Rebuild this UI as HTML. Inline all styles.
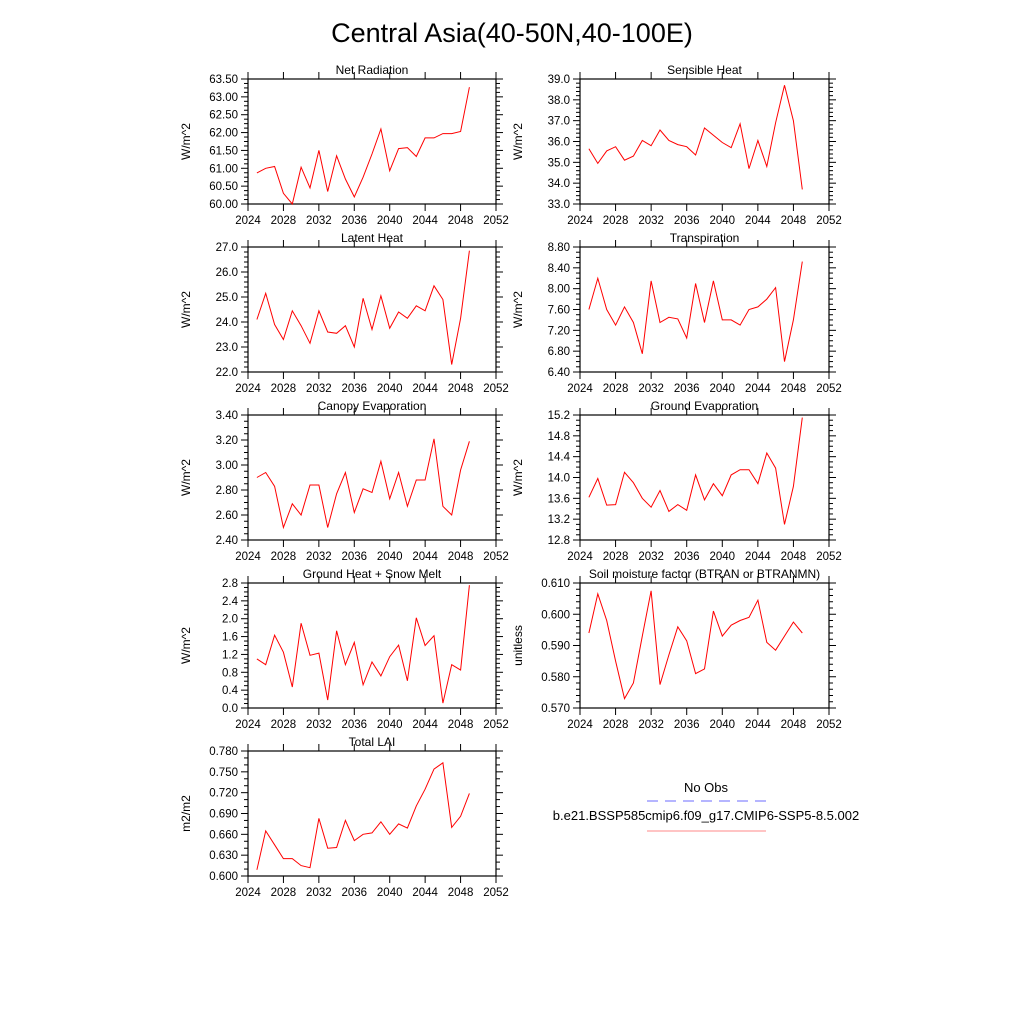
<!DOCTYPE html>
<html><head><meta charset="utf-8"><style>
body{margin:0;background:#fff;}
svg{display:block;font-family:"Liberation Sans",sans-serif;}
</style></head><body>
<svg id="fig" width="1024" height="1024" viewBox="0 0 1024 1024">
<text x="512" y="42" font-size="27" text-anchor="middle">Central Asia(40-50N,40-100E)</text>
<g>
<text x="706" y="792" font-size="13" text-anchor="middle">No Obs</text>
<line x1="647" y1="801" x2="766" y2="801" stroke="#6b6bff" stroke-width="1" stroke-dasharray="11,7"/>
<text x="706" y="820" font-size="13" text-anchor="middle">b.e21.BSSP585cmip6.f09_g17.CMIP6-SSP5-8.5.002</text>
<line x1="647" y1="831" x2="766" y2="831" stroke="#f88" stroke-width="1"/>
</g>
</svg>
<script>
const years = [2025,2026,2027,2028,2029,2030,2031,2032,2033,2034,2035,2036,2037,2038,2039,2040,2041,2042,2043,2044,2045,2046,2047,2048,2049];
const xTicks = [2024,2028,2032,2036,2040,2044,2048,2052];
const netRad = [60.87,61.0,61.05,60.3,60.0,61.03,60.45,61.5,60.35,61.35,60.7,60.2,60.75,61.4,62.1,60.93,61.55,61.58,61.33,61.85,61.85,61.97,61.97,62.03,63.27];
const sensible = [35.65,34.95,35.55,35.75,35.1,35.3,36.05,35.8,36.55,36.05,35.85,35.75,35.35,36.65,36.3,35.95,35.7,36.85,34.7,36.05,34.8,36.9,38.7,37.0,33.7];
const latent = [24.1,25.15,23.9,23.3,24.45,23.85,23.15,24.45,23.6,23.55,23.85,23.0,24.95,23.7,25.05,23.75,24.4,24.15,24.65,24.45,25.45,24.9,22.3,24.15,26.85];
const transp = [7.6,8.2,7.6,7.3,7.65,7.35,6.75,8.15,7.35,7.45,7.42,7.05,8.1,7.35,8.15,7.4,7.4,7.3,7.6,7.65,7.8,8.02,6.6,7.4,8.52];
const canopy = [2.9,2.94,2.83,2.5,2.69,2.6,2.84,2.84,2.5,2.77,2.94,2.62,2.81,2.78,3.03,2.73,2.94,2.67,2.88,2.88,3.21,2.67,2.6,2.96,3.19];
const groundEvap = [13.62,13.98,13.47,13.48,14.1,13.9,13.6,13.43,13.75,13.35,13.48,13.37,14.05,13.57,13.88,13.65,14.05,14.15,14.15,13.88,14.47,14.18,13.1,13.83,15.15];
const groundHeat = [1.1,0.97,1.63,1.25,0.47,1.9,1.18,1.23,0.18,1.73,0.97,1.47,0.52,1.03,0.72,1.15,1.41,0.61,2.02,1.4,1.62,0.11,0.97,0.85,2.75];
const soil = [0.594,0.6065,0.598,0.585,0.573,0.578,0.593,0.6075,0.5775,0.587,0.596,0.5915,0.581,0.5825,0.601,0.593,0.5965,0.598,0.599,0.6045,0.591,0.5885,0.593,0.5975,0.594];
const lai = [0.609,0.665,0.645,0.625,0.625,0.615,0.612,0.683,0.64,0.641,0.68,0.651,0.66,0.662,0.678,0.66,0.675,0.669,0.701,0.725,0.754,0.763,0.67,0.686,0.719];
const ticksNet = ["60.00","60.50","61.00","61.50","62.00","62.50","63.00","63.50"];
const ticksSens = ["33.0","34.0","35.0","36.0","37.0","38.0","39.0"];
const ticksLat = ["22.0","23.0","24.0","25.0","26.0","27.0"];
const ticksTr = ["6.40","6.80","7.20","7.60","8.00","8.40","8.80"];
const ticksCan = ["2.40","2.60","2.80","3.00","3.20","3.40"];
const ticksGE = ["12.8","13.2","13.6","14.0","14.4","14.8","15.2"];
const ticksGH = ["0.0","0.4","0.8","1.2","1.6","2.0","2.4","2.8"];
const ticksSoil = ["0.570","0.580","0.590","0.600","0.610"];
const ticksLai = ["0.600","0.630","0.660","0.690","0.720","0.750","0.780"];

const panels = [
 {name:"net-radiation",title:"Net Radiation",ylab:"W/m^2",x:248,y:79,w:248,d:netRad,t:ticksNet,minor:3},
 {name:"sensible-heat",title:"Sensible Heat",ylab:"W/m^2",x:580,y:79,w:249,d:sensible,t:ticksSens,minor:4},
 {name:"latent-heat",title:"Latent Heat",ylab:"W/m^2",x:248,y:247,w:248,d:latent,t:ticksLat,minor:4},
 {name:"transpiration",title:"Transpiration",ylab:"W/m^2",x:580,y:247,w:249,d:transp,t:ticksTr,minor:3},
 {name:"canopy-evaporation",title:"Canopy Evaporation",ylab:"W/m^2",x:248,y:415,w:248,d:canopy,t:ticksCan,minor:3},
 {name:"ground-evaporation",title:"Ground Evaporation",ylab:"W/m^2",x:580,y:415,w:249,d:groundEvap,t:ticksGE,minor:3},
 {name:"ground-heat-snow-melt",title:"Ground Heat + Snow Melt",ylab:"W/m^2",x:248,y:583,w:248,d:groundHeat,t:ticksGH,minor:3},
 {name:"soil-moisture-factor",title:"Soil moisture factor (BTRAN or BTRANMN)",ylab:"unitless",x:580,y:583,w:249,d:soil,t:ticksSoil,minor:4},
 {name:"total-lai",title:"Total LAI",ylab:"m2/m2",x:248,y:751,w:248,d:lai,t:ticksLai,minor:2}
];
const H = 125;
const NS = "http://www.w3.org/2000/svg";
const svg = document.getElementById('fig');
function mk(tag, attrs, parent){const e=document.createElementNS(NS,tag);for(const k in attrs)e.setAttribute(k,attrs[k]);parent.appendChild(e);return e;}
panels.forEach(p=>{
 const g = mk('g',{},svg);
 
 
 const ymin = parseFloat(p.t[0]), ymax = parseFloat(p.t[p.t.length-1]);
 const xs = v => p.x + (v-xTicks[0])/(xTicks[xTicks.length-1]-xTicks[0])*p.w;
 const ys = v => p.y + H - (v-ymin)/(ymax-ymin)*H;
 const box = mk('rect',{x:p.x,y:p.y,width:p.w,height:H,fill:'none',stroke:'#000','stroke-width':1.2},g);
 
 
 const tt = mk('text',{x:p.x+p.w/2,y:p.y-5,'font-size':12,'text-anchor':'middle'},g);
 tt.textContent = p.title;
 
 
 const yl = mk('text',{x:0,y:0,'font-size':12,'text-anchor':'middle',transform:`translate(${p.x-58},${p.y+H/2}) rotate(-90)`},g);
 yl.textContent = p.ylab;
 
 
 xTicks.forEach(v=>{
  const X = xs(v);
  mk('line',{x1:X,y1:p.y+H,x2:X,y2:p.y+H+7,stroke:'#000'},g);
  mk('line',{x1:X,y1:p.y,x2:X,y2:p.y-7,stroke:'#000'},g);
  const lb = mk('text',{x:X,y:p.y+H+20,'font-size':11.5,'text-anchor':'middle'},g);
  lb.textContent = v;
  
  
 });
 p.t.forEach((s,i)=>{
  const v = parseFloat(s), Y = ys(v);
  mk('line',{x1:p.x,y1:Y,x2:p.x-7,y2:Y,stroke:'#000'},g);
  mk('line',{x1:p.x+p.w,y1:Y,x2:p.x+p.w+7,y2:Y,stroke:'#000'},g);
  const lb = mk('text',{x:p.x-10,y:Y+4,'font-size':11.5,'text-anchor':'end'},g);
  lb.textContent = s;
  
  
  if(i<p.t.length-1){
   const step = parseFloat(p.t[1])-parseFloat(p.t[0]);
   for(let k=1;k<=p.minor;k++){
    const Ym = ys(v+step*k/(p.minor+1));
    mk('line',{x1:p.x,y1:Ym,x2:p.x-4,y2:Ym,stroke:'#000'},g);
    mk('line',{x1:p.x+p.w,y1:Ym,x2:p.x+p.w+4,y2:Ym,stroke:'#000'},g);
   }
  }
 });
 const pts = p.d.map((v,i)=>xs(years[i]).toFixed(1)+','+ys(v).toFixed(1)).join(' ');
 const pl = mk('polyline',{points:pts,fill:'none',stroke:'#f00','stroke-width':1},g);
 
 
});
</script>
</body></html>
